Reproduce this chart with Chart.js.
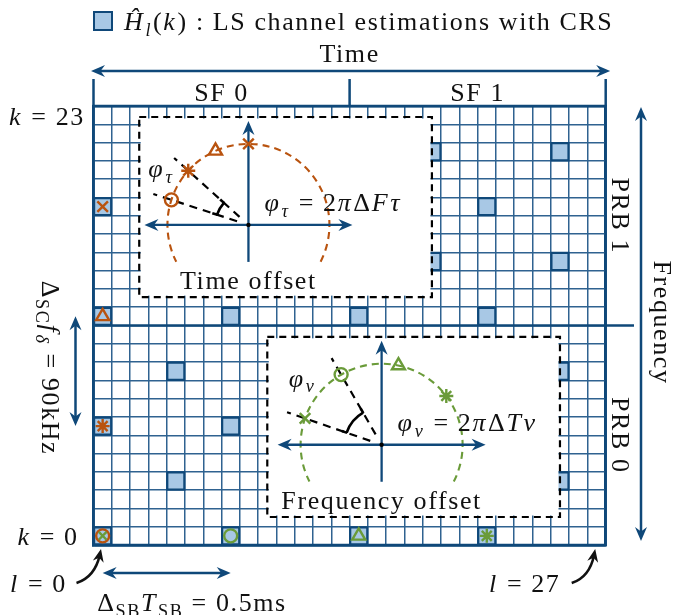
<!DOCTYPE html>
<html>
<head>
<meta charset="utf-8">
<script src="https://cdn.jsdelivr.net/npm/chart.js@4/dist/chart.umd.min.js"></script>
<style>
  html, body { margin: 0; padding: 0; background: #fff; }
  #wrap { width: 677px; height: 615px; position: relative; }
</style>
</head>
<body>
<div id="wrap"><canvas id="grid"></canvas></div>
<script>
// ---- Resource grid: 2 subframes x 14 OFDM symbols, 2 PRBs x 12 subcarriers ----
const nSymbols = 28;
const nSubcarriers = 24;
const subframeLabels = ['SF 0', 'SF 1'];
const prbLabels = ['PRB 0', 'PRB 1'];
const kTicks = [0, 23];
const lTicks = [0, 27];

// CRS resource elements: symbol index l, subcarrier index k
const crsL = [0, 0, 0, 0, 4, 4, 4, 4, 7, 7, 7, 7, 11, 11, 11, 11,
              14, 14, 14, 14, 18, 18, 18, 18, 21, 21, 21, 21, 25, 25, 25, 25];
const crsK = [0, 6, 12, 18, 3, 9, 15, 21, 0, 6, 12, 18, 3, 9, 15, 21,
              0, 6, 12, 18, 3, 9, 15, 21, 0, 6, 12, 18, 3, 9, 15, 21];

// Pilots along symbol l = 0 (time offset) and their phases (degrees)
const timeK = [0, 6, 12, 18];
const timePhaseDeg = [162, 138, 114, 90];

// Pilots along subcarrier k = 0 (frequency offset) and their phases (degrees)
const freqL = [0, 7, 14, 21];
const freqPhaseDeg = [161, 120, 78, 37];

// ---- styling ----
const COL = {
  dark: '#0f4879',
  grid: '#2f6290',
  fill: '#a8c8e5',
  orange: '#b9530f',
  green: '#6a9b39',
  black: '#111111'
};
const timeMarkStyle = ['circle', 'star', 'triangle', 'crossRot'];
const timeMarkSize = [6.5, 7, 7.5, 7.5];
const freqMarkStyle = ['crossRot', 'circle', 'triangle', 'star'];
const freqMarkSize = [5.5, 6.5, 7.5, 7];
const freqInsetSize = [7.5, 6.5, 7.5, 7];

const SERIF = '"Liberation Serif", "Times New Roman", serif';
const FS = 26;

function setFont(ctx, size, italic) {
  ctx.font = (italic ? 'italic ' : '') + size + 'px ' + SERIF;
}
// parts: [text, kind]; kind: 'r' roman, 'i' italic, 'sr' / 'si' subscript
function layoutRich(ctx, parts, size) {
  let w = 0;
  const out = [];
  for (const [t, kind] of parts) {
    const sub = kind[0] === 's';
    const it = kind.endsWith('i');
    const sz = sub ? size * 0.7 : size;
    setFont(ctx, sz, it);
    out.push({ t, sz, it, dy: sub ? size * 0.22 : 0, x: w });
    w += ctx.measureText(t).width + (it ? size * 0.04 : 0);
  }
  return { out, w };
}
function drawRich(ctx, parts, x, y, size, align) {
  ctx.save();
  ctx.letterSpacing = '1.6px';
  const { out, w } = layoutRich(ctx, parts, size);
  const x0 = align === 'left' ? x : align === 'right' ? x - w : x - w / 2;
  ctx.textAlign = 'left';
  ctx.textBaseline = 'alphabetic';
  ctx.fillStyle = COL.black;
  for (const p of out) {
    setFont(ctx, p.sz, p.it);
    ctx.fillText(p.t, x0 + p.x, y + p.dy);
  }
  ctx.restore();
}
function drawRichRot(ctx, parts, bx, cy, size) {
  ctx.save();
  ctx.translate(bx, cy);
  ctx.rotate(Math.PI / 2);
  drawRich(ctx, parts, 0, 0, size, 'center');
  ctx.restore();
}

function arrowHead(ctx, x, y, ang, color, len, half) {
  ctx.save();
  ctx.translate(x, y);
  ctx.rotate(ang);
  ctx.beginPath();
  ctx.moveTo(0, 0);
  ctx.lineTo(-len, -half);
  ctx.lineTo(-len * 0.68, 0);
  ctx.lineTo(-len, half);
  ctx.closePath();
  ctx.fillStyle = color;
  ctx.fill();
  ctx.restore();
}
function arrowLine(ctx, x1, y1, x2, y2, color, lw, headStart, headEnd) {
  const ang = Math.atan2(y2 - y1, x2 - x1);
  const len = 14, half = 6, cut = len * 0.6;
  const sx = headStart ? x1 + Math.cos(ang) * cut : x1;
  const sy = headStart ? y1 + Math.sin(ang) * cut : y1;
  const ex = headEnd ? x2 - Math.cos(ang) * cut : x2;
  const ey = headEnd ? y2 - Math.sin(ang) * cut : y2;
  ctx.save();
  ctx.setLineDash([]);
  ctx.strokeStyle = color;
  ctx.lineWidth = lw;
  ctx.beginPath();
  ctx.moveTo(sx, sy);
  ctx.lineTo(ex, ey);
  ctx.stroke();
  ctx.restore();
  if (headEnd) arrowHead(ctx, x2, y2, ang, color, len, half);
  if (headStart) arrowHead(ctx, x1, y1, ang + Math.PI, color, len, half);
}
function curvedArrow(ctx, x0, y0, cx, cy, x1, y1) {
  ctx.save();
  ctx.strokeStyle = COL.black;
  ctx.lineWidth = 2.5;
  ctx.beginPath();
  ctx.moveTo(x0, y0);
  const ang = Math.atan2(y1 - cy, x1 - cx);
  ctx.quadraticCurveTo(cx, cy, x1 - Math.cos(ang) * 6, y1 - Math.sin(ang) * 6);
  ctx.stroke();
  ctx.restore();
  arrowHead(ctx, x1, y1, ang, COL.black, 13, 5.5);
}
function marker(ctx, style, r, x, y, color) {
  ctx.save();
  ctx.setLineDash([]);
  ctx.strokeStyle = color;
  ctx.fillStyle = 'rgba(0,0,0,0)';
  ctx.lineWidth = 2.4;
  Chart.helpers.drawPoint(ctx, { pointStyle: style, radius: r, rotation: 0, borderWidth: 2.4 }, x, y);
  ctx.restore();
}

const D2R = Math.PI / 180;

function drawInset(ctx, X, Y, cfg) {
  const bx0 = X(cfg.box[0]), bx1 = X(cfg.box[1]);
  const byT = Y(cfg.box[3]), byB = Y(cfg.box[2]);
  ctx.save();
  ctx.fillStyle = '#ffffff';
  ctx.fillRect(bx0 + 1.5, byT + 1.5, bx1 - bx0 - 3, byB - byT - 3);
  ctx.setLineDash([7, 5]);
  ctx.lineWidth = 2.2;
  ctx.strokeStyle = '#000';
  ctx.strokeRect(bx0, byT, bx1 - bx0, byB - byT);
  ctx.restore();

  const ox = X(cfg.origin[0]), oy = Y(cfg.origin[1]);
  const R = 81;

  // phase circle
  ctx.save();
  ctx.strokeStyle = cfg.color;
  ctx.lineWidth = 2.1;
  ctx.setLineDash([7, 5]);
  ctx.beginPath();
  ctx.arc(ox, oy, R, 27 * D2R, -207 * D2R, true);
  ctx.stroke();
  ctx.restore();

  // I/Q axes
  arrowLine(ctx, ox - 104, oy, ox + 104, oy, COL.dark, 2.3, true, true);
  arrowLine(ctx, ox, oy + 37, ox, oy - 104, COL.dark, 2.3, false, true);
  ctx.beginPath();
  ctx.fillStyle = '#000';
  ctx.arc(ox, oy, 2.2, 0, Math.PI * 2);
  ctx.fill();

  // reference rays and angle
  const a1 = cfg.rays[0] * D2R, a2 = cfg.rays[1] * D2R;
  ctx.save();
  ctx.strokeStyle = '#000';
  ctx.lineWidth = 2.2;
  ctx.setLineDash([8, 6]);
  for (const a of [a1, a2]) {
    ctx.beginPath();
    ctx.moveTo(ox + Math.cos(a) * 12, oy - Math.sin(a) * 12);
    ctx.lineTo(ox + Math.cos(a) * 100, oy - Math.sin(a) * 100);
    ctx.stroke();
  }
  ctx.setLineDash([]);
  ctx.lineWidth = 2.6;
  const ra = cfg.angleR;
  ctx.beginPath();
  ctx.arc(ox, oy, ra, -a1, -a2, false);
  ctx.stroke();
  for (const a of [a1, a2]) {
    ctx.beginPath();
    ctx.moveTo(ox + Math.cos(a) * (ra - 0.5), oy - Math.sin(a) * (ra - 0.5));
    ctx.lineTo(ox + Math.cos(a) * (ra + 5), oy - Math.sin(a) * (ra + 5));
    ctx.stroke();
  }
  ctx.restore();

  // pilot phases
  cfg.phases.forEach((p, i) => {
    const a = p * D2R;
    marker(ctx, cfg.styles[i], cfg.sizes[i], ox + Math.cos(a) * R, oy - Math.sin(a) * R, cfg.color);
  });

  drawRich(ctx, cfg.label, ox + cfg.labelAt[0], oy + cfg.labelAt[1], FS, 'center');
  drawRich(ctx, cfg.eq, ox + 16, oy - 13.5, FS, 'left');
  drawRich(ctx, [[cfg.title, 'r']], ox, oy + 64.5, FS, 'center');
}

const overlay = {
  id: 'overlay',
  beforeDatasetsDraw(chart) {
    const ctx = chart.ctx, a = chart.chartArea;
    const X = v => chart.scales.x.getPixelForValue(v);
    const Y = v => chart.scales.y.getPixelForValue(v);
    ctx.save();
    ctx.strokeStyle = COL.dark;
    ctx.lineWidth = 2.5;
    ctx.strokeRect(a.left, a.top, a.right - a.left, a.bottom - a.top);
    // PRB boundary
    ctx.beginPath();
    ctx.moveTo(a.left, Y(12));
    ctx.lineTo(634, Y(12));
    ctx.stroke();
    // subframe markers above the grid
    for (const l of [0, 14, nSymbols]) {
      ctx.beginPath();
      ctx.moveTo(X(l), 79);
      ctx.lineTo(X(l), Y(nSubcarriers));
      ctx.stroke();
    }
    ctx.restore();
  },
  afterDatasetsDraw(chart) {
    const ctx = chart.ctx;
    const X = v => chart.scales.x.getPixelForValue(v);
    const Y = v => chart.scales.y.getPixelForValue(v);

    // legend
    ctx.save();
    ctx.fillStyle = COL.fill;
    ctx.strokeStyle = COL.dark;
    ctx.lineWidth = 2;
    ctx.fillRect(94, 12, 18, 18);
    ctx.strokeRect(94, 12, 18, 18);
    ctx.restore();
    drawRich(ctx, [['Ĥ', 'i'], ['l', 'si'], ['(', 'r'], ['k', 'i'], [') : LS channel estimations with CRS', 'r']], 124, 30, FS, 'left');

    // time axis
    drawRich(ctx, [['Time', 'r']], X(14), 62, FS, 'center');
    arrowLine(ctx, X(0) - 2.5, 71, X(nSymbols) + 4.5, 71, COL.dark, 2.5, true, true);
    drawRich(ctx, [[subframeLabels[0], 'r']], X(7), 101, FS, 'center');
    drawRich(ctx, [[subframeLabels[1], 'r']], X(21), 101, FS, 'center');

    // frequency axis
    arrowLine(ctx, 641, Y(nSubcarriers) + 1, 641, Y(0) - 4, COL.dark, 2.5, true, true);
    drawRichRot(ctx, [[prbLabels[1], 'r']], 612, Y(18), FS);
    drawRichRot(ctx, [[prbLabels[0], 'r']], 612, Y(6), FS);
    drawRichRot(ctx, [['Frequency', 'r']], 654, Y(12) - 3, FS);

    // index labels
    drawRich(ctx, [['k', 'i'], [' = ' + kTicks[1], 'r']], 47, Y(kTicks[1] + 0.5) + 9.5, FS, 'center');
    drawRich(ctx, [['k', 'i'], [' = ' + kTicks[0], 'r']], 48, Y(kTicks[0] + 0.5) + 9.5, FS, 'center');
    drawRich(ctx, [['l', 'i'], [' = ' + lTicks[0], 'r']], X(0) - 55, 592, FS, 'center');
    drawRich(ctx, [['l', 'i'], [' = ' + lTicks[1], 'r']], X(nSymbols) - 81, 592, FS, 'center');
    curvedArrow(ctx, X(0) - 17, 583, X(0) + 1.5, 577, X(0) + 7.5, 549);
    curvedArrow(ctx, X(nSymbols) - 34, 583, X(nSymbols) - 16, 577, X(nSymbols) - 10.5, 549);

    // pilot spacing
    arrowLine(ctx, X(0.5), Y(0) + 28, X(7.5), Y(0) + 28, COL.dark, 2.5, true, true);
    drawRich(ctx, [['Δ', 'r'], ['SB', 'sr'], ['T', 'i'], ['SB', 'sr'], [' = 0.5ms', 'r']], X(0) + 98.5, 611, FS, 'center');
    arrowLine(ctx, X(0) - 18, Y(12.5), X(0) - 18, Y(6.5), COL.dark, 2.5, true, true);
    drawRichRot(ctx, [['Δ', 'r'], ['SC', 'sr'], ['f', 'i'], ['δ', 'si'], [' = 90kHz', 'r']], 42, 368, FS);

    // time-offset inset
    drawInset(ctx, X, Y, {
      box: [2.5, 18.5, 13.55, 23.4],
      origin: [8.47, 17.5],
      color: COL.orange,
      phases: timePhaseDeg,
      styles: timeMarkStyle,
      sizes: timeMarkSize,
      rays: [timePhaseDeg[0], timePhaseDeg[1]],
      angleR: 33,
      label: [['φ', 'i'], ['τ', 'si']],
      labelAt: [-87, -48],
      eq: [['φ', 'i'], ['τ', 'si'], [' = 2', 'r'], ['π', 'i'], ['Δ', 'r'], ['F', 'i'], ['τ', 'i']],
      title: 'Time offset'
    });
    // frequency-offset inset
    drawInset(ctx, X, Y, {
      box: [9.5, 25.5, 1.53, 11.38],
      origin: [15.75, 5.48],
      color: COL.green,
      phases: freqPhaseDeg,
      styles: freqMarkStyle,
      sizes: freqInsetSize,
      rays: [freqPhaseDeg[0], freqPhaseDeg[1]],
      angleR: 37,
      label: [['φ', 'i'], ['ν', 'si']],
      labelAt: [-79, -58],
      eq: [['φ', 'i'], ['ν', 'si'], [' = 2', 'r'], ['π', 'i'], ['Δ', 'r'], ['T', 'i'], ['ν', 'i']],
      title: 'Frequency offset'
    });
  }
};

const cellRadius = c => {
  const s = c.chart.scales.x;
  if (!s) return 12;
  return (s.getPixelForValue(1) - s.getPixelForValue(0) - 1.2) / Math.SQRT2;
};

const gridLine = (max) => ({
  color: c => (c.tick && (c.tick.value === 0 || c.tick.value === max)) ? COL.dark : COL.grid,
  lineWidth: c => (c.tick && (c.tick.value === 0 || c.tick.value === max)) ? 2.5 : 1.5,
  drawTicks: false
});

new Chart(document.getElementById('grid'), {
  type: 'scatter',
  data: {
    datasets: [
      {
        label: 'CRS',
        data: crsL.map((l, i) => ({ x: l + 0.5, y: crsK[i] + 0.5 })),
        order: 3,
        pointStyle: 'rect',
        pointRadius: cellRadius,
        backgroundColor: COL.fill,
        borderColor: COL.dark,
        borderWidth: 2.2,
        clip: false
      },
      {
        label: 'time offset pilots',
        data: timeK.map(k => ({ x: 0.5, y: k + 0.5 })),
        order: 2,
        pointStyle: timeMarkStyle,
        pointRadius: timeMarkSize,
        backgroundColor: 'rgba(0,0,0,0)',
        borderColor: COL.orange,
        borderWidth: 2.4,
        clip: false
      },
      {
        label: 'frequency offset pilots',
        data: freqL.map(l => ({ x: l + 0.5, y: 0.5 })),
        order: 1,
        pointStyle: freqMarkStyle,
        pointRadius: freqMarkSize,
        backgroundColor: 'rgba(0,0,0,0)',
        borderColor: COL.green,
        borderWidth: 2.4,
        clip: false
      }
    ]
  },
  options: {
    responsive: true,
    maintainAspectRatio: false,
    animation: false,
    events: [],
    layout: { padding: { left: 93.5, right: 71.3, top: 106, bottom: 70 } },
    plugins: { legend: { display: false }, tooltip: { enabled: false } },
    scales: {
      x: {
        type: 'linear', min: 0, max: nSymbols,
        ticks: { display: false, stepSize: 1 },
        grid: gridLine(nSymbols),
        border: { display: true, color: COL.dark, width: 2.5 }
      },
      y: {
        type: 'linear', min: 0, max: nSubcarriers,
        ticks: { display: false, stepSize: 1 },
        grid: gridLine(nSubcarriers),
        border: { display: true, color: COL.dark, width: 2.5 }
      }
    }
  },
  plugins: [overlay]
});
</script>
</body>
</html>
